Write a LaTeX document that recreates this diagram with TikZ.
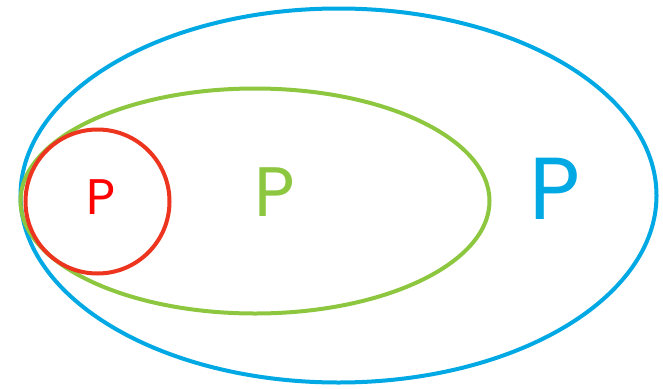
\documentclass[tikz,border=0pt]{standalone}
\usepackage{fontspec}
\setmainfont{Poppins}
\definecolor{cblue}{RGB}{0,168,228}
\definecolor{cgreen}{RGB}{141,198,63}
\definecolor{cred}{RGB}{236,52,30}
\definecolor{tred}{RGB}{255,0,0}
\begin{document}
\begin{tikzpicture}[x=1pt,y=-1pt,
  ring/.style={line width=4pt},
  lbl/.style={inner sep=0pt,anchor=center}]
\useasboundingbox (0,0) rectangle (663,388);
\draw[ring,cblue] (338.5,195.5) ellipse [x radius=318, y radius=187];
\draw[ring,cgreen] (255,201) ellipse [x radius=234.5, y radius=112.5];
\draw[ring,cred] (97.5,201.5) circle [radius=72];
\node[lbl,text=tred,font=\fontsize{50}{50}\selectfont] (p1) at (101,197) {P};
\node[lbl,text=cgreen,font=\fontsize{70}{70}\selectfont] (p2) at (275,192) {P};
\node[lbl,text=cblue,font=\fontsize{88}{88}\selectfont] (p3) at (555,189) {P};
\end{tikzpicture}
\end{document}
